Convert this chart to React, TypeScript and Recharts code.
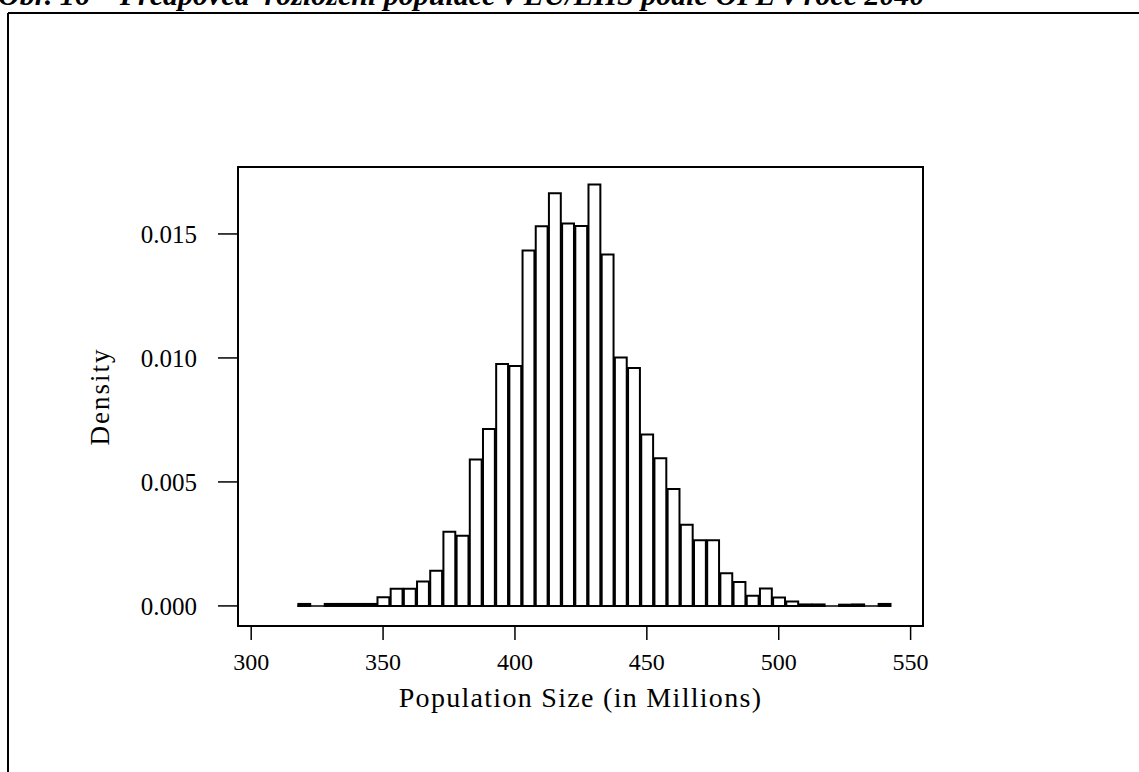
import React from "react"
import { BarChart, Bar, XAxis, YAxis, ReferenceArea, ReferenceLine, Label } from "recharts"

// histogram bins (centre of each 5-million bin)
const binCenters = [
  320, 325, 330, 335, 340, 345, 350, 355, 360, 365, 370, 375, 380, 385, 390,
  395, 400, 405, 410, 415, 420, 425, 430, 435, 440, 445, 450, 455, 460, 465,
  470, 475, 480, 485, 490, 495, 500, 505, 510, 515, 520, 525, 530, 535, 540,
]
const densities = [
  0.00008, 0, 0.00008, 0.00008, 0.00008, 0.00008, 0.00035, 0.00069, 0.00069, 0.00098,
  0.00142, 0.00299, 0.00283, 0.0059, 0.00713, 0.00976, 0.00967, 0.01433, 0.01531, 0.01664,
  0.01542, 0.01532, 0.01699, 0.01417, 0.01002, 0.00959, 0.00691, 0.00595, 0.00471, 0.00327,
  0.00265, 0.00265, 0.00132, 0.00096, 0.00041, 0.0007, 0.00034, 0.00018, 0.00006, 0.00006,
  0, 0.00005, 0.00006, 0, 0.00008,
]
const xTicks = [300, 350, 400, 450, 500, 550]
const yTicks = [0, 0.005, 0.01, 0.015]
const BIN_WIDTH = 5

const X_DOMAIN: [number, number] = [295, 554.7]
const Y_DOMAIN: [number, number] = [-0.00081, 0.0177]

const W = 1139
const H = 772
const MARGIN = { top: 167, right: 216, left: 138, bottom: 86 }
const Y_AXIS_W = 100
const X_AXIS_H = 60
const PLOT_W = W - MARGIN.left - Y_AXIS_W - MARGIN.right

const FONT = "'Liberation Serif', 'Times New Roman', serif"

const data = binCenters.map((x, i) => ({ x, density: densities[i] }))
const barPx = (PLOT_W * BIN_WIDTH) / (X_DOMAIN[1] - X_DOMAIN[0])

const XTitle = (props: any) => {
  const vb = props.viewBox
  return (
    <text
      x={vb.x + vb.width / 2}
      y={vb.y + 81}
      textAnchor="middle"
      fontFamily={FONT}
      fontSize={28}
      letterSpacing={1.3}
      fill="#000"
    >
      Population Size (in Millions)
    </text>
  )
}

const YTitle = (props: any) => {
  const vb = props.viewBox
  const cx = vb.x - 38
  const cy = vb.y + vb.height / 2
  return (
    <text
      x={cx}
      y={cy}
      transform={`rotate(-90, ${cx}, ${cy})`}
      textAnchor="middle"
      dominantBaseline="central"
      fontFamily={FONT}
      fontSize={27}
      letterSpacing={2}
      fill="#000"
    >
      Density
    </text>
  )
}

export default function App() {
  return (
    <div style={{ position: "absolute", left: 0, top: 0, width: W, height: H, overflow: "hidden", background: "#fff" }}>
      <svg width={W} height={H} style={{ position: "absolute", left: 0, top: 0 }}>
        <text x={-2} y={5} fontFamily={FONT} fontSize={30} fontWeight="bold" fontStyle="italic" fill="#000">
          Obr. 16 – Předpověď rozložení populace v EU/EHS podle OPE v roce 2040
        </text>
        <line x1={8} y1={13} x2={W} y2={13} stroke="#000" strokeWidth={2} />
        <line x1={8} y1={13} x2={8} y2={H} stroke="#000" strokeWidth={2} />
      </svg>
      <div style={{ position: "absolute", left: 0, top: 0 }}>
        <BarChart width={W} height={H} data={data} margin={MARGIN} barCategoryGap={0}>
          <XAxis
            dataKey="x"
            type="number"
            domain={X_DOMAIN}
            allowDataOverflow
            ticks={xTicks}
            interval={0}
            height={X_AXIS_H}
            axisLine={false}
            tickLine={{ stroke: "#000", strokeWidth: 1.5 }}
            tickSize={14}
            tickMargin={13}
            tick={{ fill: "#000", fontFamily: FONT, fontSize: 24 }}
          >
            <Label content={XTitle} />
          </XAxis>
          <YAxis
            type="number"
            domain={Y_DOMAIN}
            allowDataOverflow
            ticks={yTicks}
            interval={0}
            width={Y_AXIS_W}
            axisLine={false}
            tickLine={{ stroke: "#000", strokeWidth: 1.5 }}
            tickSize={20}
            tickMargin={21}
            tickFormatter={(v: number) => v.toFixed(3)}
            tick={{ fill: "#000", fontFamily: FONT, fontSize: 25 }}
          >
            <Label content={YTitle} />
          </YAxis>
          <ReferenceLine
            segment={[{ x: 317.5, y: 0 }, { x: 542.5, y: 0 }]}
            stroke="#000"
            strokeWidth={1.5}
          />
          <Bar
            dataKey="density"
            fill="#fff"
            stroke="#000"
            strokeWidth={2}
            barSize={barPx}
            isAnimationActive={false}
          />
          <ReferenceArea
            x1={X_DOMAIN[0]}
            x2={X_DOMAIN[1]}
            y1={Y_DOMAIN[0]}
            y2={Y_DOMAIN[1]}
            fill="none"
            fillOpacity={0}
            stroke="#000"
            strokeWidth={2}
            ifOverflow="visible"
          />
        </BarChart>
      </div>
    </div>
  )
}
